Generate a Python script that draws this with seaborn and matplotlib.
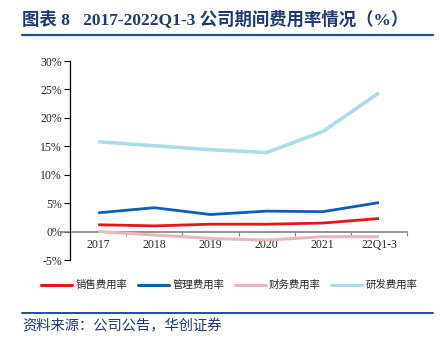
import matplotlib
matplotlib.use("Agg")
import matplotlib.pyplot as plt
import seaborn as sns
import pandas as pd
from matplotlib.lines import Line2D
from matplotlib.ticker import FixedLocator, FuncFormatter

periods = ["2017", "2018", "2019", "2020", "2021", "22Q1-3"]
sales_rate = [1.2, 1.0, 1.3, 1.3, 1.5, 2.3]
admin_rate = [3.3, 4.2, 3.0, 3.6, 3.5, 5.1]
finance_rate = [0.0, -0.6, -1.2, -1.5, -0.9, -0.9]
rd_rate = [15.8, 15.1, 14.4, 13.9, 17.6, 24.4]
series_names = ["销售费用率", "管理费用率", "财务费用率", "研发费用率"]
colors = ["#E8141B", "#0A5EB5", "#E9B7BA", "#ADDCE8"]
widths = [2.0, 2.0, 2.2, 2.6]

sns.set_style("white")
plt.rcParams['font.family'] = ['Liberation Serif', 'Noto Sans CJK SC', 'DejaVu Sans']
plt.rcParams['axes.unicode_minus'] = False

rows = []
for name, vals in zip(series_names, [sales_rate, admin_rate, finance_rate, rd_rate]):
    for p, v in zip(periods, vals):
        rows.append({"period": p, "value": v, "series": name})
df = pd.DataFrame(rows)

fig = plt.figure(figsize=(4.41, 3.39), dpi=100)
ax = fig.add_axes([0.159, 0.233, 0.764, 0.587])

for name, c, lw in zip(series_names, colors, widths):
    sub = df[df.series == name]
    sns.lineplot(data=sub, x="period", y="value", ax=ax, color=c, linewidth=lw,
                 sort=False, label=name, legend=False)

ax.set_xlim(-0.5, 5.5)
ax.set_ylim(-5, 30)
ax.set_xlabel("")
ax.set_ylabel("")
ax.set_yticks(range(-5, 31, 5))
ax.yaxis.set_major_formatter(FuncFormatter(lambda v, p: f"{int(v)}%"))
ax.tick_params(axis='y', length=4, width=0.8, color='black', labelsize=8.5, pad=2, direction='out', left=True)
for s in ["top", "right"]:
    ax.spines[s].set_visible(False)
ax.spines["left"].set_color("black")
ax.spines["left"].set_linewidth(0.9)
ax.spines["bottom"].set_position(("data", 0))
ax.spines["bottom"].set_color("#808080")
ax.spines["bottom"].set_linewidth(1.2)
ax.spines["bottom"].set_zorder(0.5)
ax.set_xticks(range(6))
ax.set_xticklabels(periods)
ax.xaxis.set_minor_locator(FixedLocator([0.5, 1.5, 2.5, 3.5, 4.5, 5.5]))
ax.tick_params(axis='x', which='major', length=0, labelsize=8.5, pad=5, bottom=True)
ax.tick_params(axis='x', which='minor', length=3, width=0.8, color='#808080', direction='out', bottom=True)
# short grey stub of zero line left of y axis
ax.add_line(Line2D([-0.03, 0.0], [0, 0], transform=ax.get_yaxis_transform(), color="#808080",
                   linewidth=1.2, clip_on=False))
for l in ax.lines:
    l.set_solid_capstyle('butt')

# title
fig.text(0.05, 0.945, "图表 8   2017-2022Q1-3 公司期间费用率情况（%）", fontsize=12.5, fontweight='bold',
         color="#1F3A6E", va='center', ha='left')
fig.add_artist(Line2D([0.05, 0.982], [0.897, 0.897], color="#1F4E96", linewidth=1.6))

# legend
handles = [Line2D([0], [0], color=c, linewidth=2.2) for c in colors]
fig.legend(handles, series_names, loc='center', bbox_to_anchor=(0.52, 0.159), ncol=4, frameon=False,
           handlelength=3.0, handletextpad=0.3, columnspacing=1.0,
           prop={'family': ['Noto Sans CJK SC'], 'size': 7.5})

fig.add_artist(Line2D([0.05, 0.982], [0.077, 0.077], color="#1F4E96", linewidth=1.4))
fig.text(0.05, 0.038, "资料来源：公司公告，华创证券", fontsize=10.3, color="#1F3A6E", va='center', ha='left',
         style='italic', family=['Noto Sans CJK SC'])

fig.savefig("out.png", dpi=100)
